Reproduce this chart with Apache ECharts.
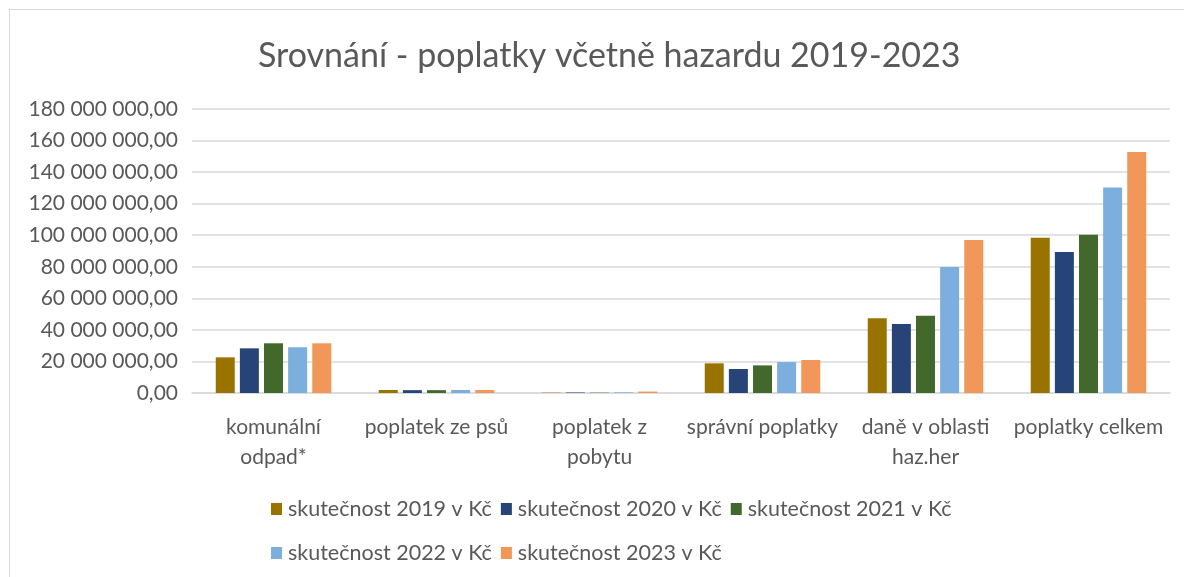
<!DOCTYPE html>
<html>
<head>
<meta charset="utf-8">
<script src="https://cdn.jsdelivr.net/npm/echarts@6/dist/echarts.min.js"></script>
<style>
  html, body { margin: 0; padding: 0; background: #fff; overflow: hidden; }
  #frame { position: absolute; left: 9px; top: 9px; width: 1200px; height: 600px; border: 1px solid #d9d9d9; }
  #chart { position: absolute; left: 0; top: 0; width: 1184px; height: 577px; }
</style>
</head>
<body>
<div id="frame"></div>
<div id="chart"></div>
<script>
const categories = ['komunální\nodpad*', 'poplatek ze psů', 'poplatek z\npobytu', 'správní poplatky', 'daně v oblasti\nhaz.her', 'poplatky celkem']
const seriesNames = ['skutečnost 2019 v Kč', 'skutečnost 2020 v Kč', 'skutečnost 2021 v Kč', 'skutečnost 2022 v Kč', 'skutečnost 2023 v Kč']
const colors = ['#997300', '#264478', '#43682B', '#7CAFDD', '#F1975A']
const values2019 = [22600000, 1900000, 200000, 18800000, 47300000, 98400000]
const values2020 = [28300000, 1800000, 300000, 15200000, 43700000, 89300000]
const values2021 = [31500000, 1800000, 200000, 17500000, 49000000, 100300000]
const values2022 = [29000000, 1900000, 400000, 19600000, 79800000, 130300000]
const values2023 = [31500000, 1900000, 900000, 20900000, 97000000, 152700000]
const allValues = [values2019, values2020, values2021, values2022, values2023]

const chart = echarts.init(document.getElementById('chart'))

const fmt = v => {
  const s = Math.round(v).toString().replace(/\B(?=(\d{3})+(?!\d))/g, ' ')
  return s + ',00'
}

const font = 'Lato, "Open Sans", sans-serif'

// legenda ve dvou řádcích jako v originále
const legendRow = (names, top) => ({
  data: names,
  left: 266,
  top,
  itemWidth: 11,
  itemHeight: 12,
  itemGap: 9,
  icon: 'rect',
  textStyle: { color: '#595959', fontSize: 21.5, padding: [0, 0, 0, 1] }
})

const option = {
  animation: false,
  textStyle: { fontFamily: font },
  title: {
    text: 'Srovnání - poplatky včetně hazardu 2019-2023',
    left: 253,
    top: 34,
    textStyle: { color: '#595959', fontSize: 34, fontWeight: 'normal', fontFamily: font }
  },
  legend: [
    legendRow(seriesNames.slice(0, 3), 493),
    legendRow(seriesNames.slice(3), 537)
  ],
  grid: { left: 192, right: 14, top: 109, bottom: 184, containLabel: false },
  xAxis: {
    type: 'category',
    data: categories,
    axisLine: { lineStyle: { color: '#d9d9d9', width: 1.5 } },
    axisTick: { show: false },
    axisLabel: { color: '#595959', fontSize: 21, lineHeight: 30, margin: 19, interval: 0 }
  },
  yAxis: {
    type: 'value',
    min: 0,
    max: 180000000,
    interval: 20000000,
    axisLine: { show: false },
    axisTick: { show: false },
    axisLabel: { color: '#595959', fontSize: 21, margin: 14, formatter: fmt },
    splitLine: { lineStyle: { color: '#d9d9d9', width: 1.5 } }
  },
  series: seriesNames.map((name, i) => ({
    name,
    type: 'bar',
    data: allValues[i],
    barWidth: 19,
    barGap: '27%',
    itemStyle: { color: colors[i] }
  }))
}

chart.setOption(option)
</script>
</body>
</html>
